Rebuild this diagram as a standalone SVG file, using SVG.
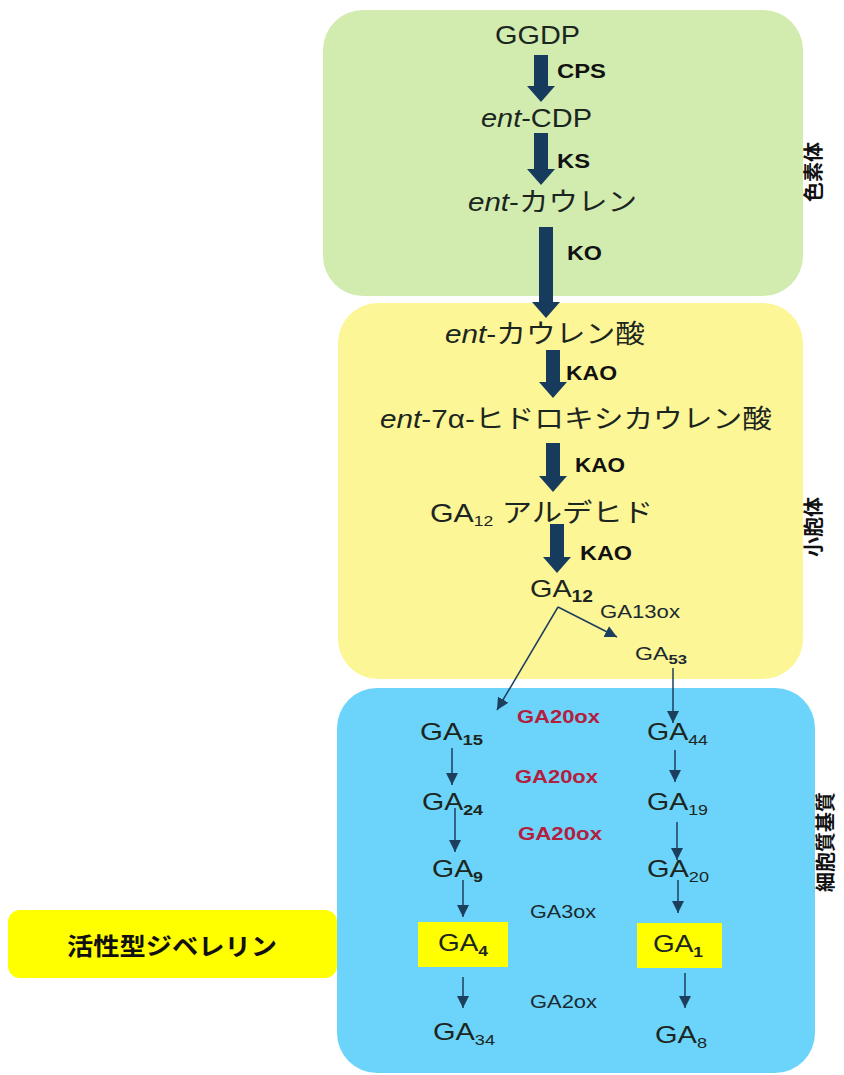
<svg xmlns="http://www.w3.org/2000/svg" width="844" height="1075" viewBox="0 0 844 1075">
<defs>
<style>
text{font-family:"Liberation Sans","Noto Sans CJK JP",sans-serif;fill:#1c2620}
.m{font-size:26px}
.g{font-size:24px}
.e{font-size:20px;font-weight:bold;fill:#111}
.r{font-size:18px;font-weight:bold;fill:#b3203f}
.s{font-size:18px;fill:#1b2a30}
.side{font-size:20px;font-weight:bold;fill:#111;text-anchor:middle}
.thick{stroke:#173b5c;stroke-width:14;fill:none}
.thin{stroke:#1d3f5e;stroke-width:1.5;fill:none}
</style>
<marker id="hb" markerUnits="userSpaceOnUse" markerWidth="18" markerHeight="30" refX="1" refY="14" orient="auto">
<path d="M0,0 L16,14 L0,28 Z" fill="#173b5c"/>
</marker>
<marker id="ht" markerUnits="userSpaceOnUse" markerWidth="14" markerHeight="12" refX="12" refY="6" orient="auto">
<path d="M0,0 L12,6 L0,12 Z" fill="#1d3f5e"/>
</marker>
</defs>
<g id="plastid">
<rect x="323" y="10" width="480" height="286" rx="40" fill="#d2ecb0"/>
<text class="side" transform="translate(821,172) rotate(-90)">色素体</text>
</g>
<g id="er">
<rect x="338" y="303" width="465" height="376" rx="40" fill="#fcf697"/>
<text class="side" transform="translate(821,527) rotate(-90)">小胞体</text>
</g>
<g id="cytosol">
<rect x="337" y="688" width="478" height="385" rx="40" fill="#6cd4fb"/>
<text class="side" transform="translate(833,842) rotate(-90)">細胞質基質</text>
</g>
<g id="active-label">
<rect x="8" y="910" width="329" height="68" rx="12" fill="#ffff00"/>
<text x="67" y="955" textLength="210" lengthAdjust="spacingAndGlyphs" style="font-size:24px;font-weight:bold;fill:#111">活性型ジベレリン</text>
</g>
<g id="n-ggdp"><text class="m" x="495" y="44" textLength="85" lengthAdjust="spacingAndGlyphs">GGDP</text></g>
<g id="n-cdp"><text class="m" x="481" y="127" textLength="111" lengthAdjust="spacingAndGlyphs"><tspan font-style="italic">ent</tspan>-CDP</text></g>
<g id="n-kaurene"><text class="m" x="468" y="211" textLength="169" lengthAdjust="spacingAndGlyphs"><tspan font-style="italic">ent</tspan>-カウレン</text></g>
<g id="n-kaurenoic"><text class="m" x="445" y="343" textLength="200" lengthAdjust="spacingAndGlyphs"><tspan font-style="italic">ent</tspan>-カウレン酸</text></g>
<g id="n-hydroxy"><text class="m" x="380" y="428" textLength="392" lengthAdjust="spacingAndGlyphs"><tspan font-style="italic">ent</tspan>-7α-ヒドロキシカウレン酸</text></g>
<g id="n-ga12ald"><text class="m" x="430" y="522" textLength="223" lengthAdjust="spacingAndGlyphs">GA<tspan font-size="15" dy="4">12</tspan><tspan dy="-4"> アルデヒド</tspan></text></g>
<g id="n-ga12"><text class="g" x="530" y="597" textLength="63" lengthAdjust="spacingAndGlyphs">GA<tspan font-size="16" font-weight="bold" dy="5">12</tspan></text></g>
<g id="n-ga53"><text class="s" x="635" y="660" textLength="52" lengthAdjust="spacingAndGlyphs">GA<tspan font-size="13" font-weight="bold" dy="4">53</tspan></text></g>
<g id="n-ga15"><text class="g" x="420" y="740" textLength="63" lengthAdjust="spacingAndGlyphs">GA<tspan font-size="15" font-weight="bold" dy="5">15</tspan></text></g>
<g id="n-ga44"><text class="g" x="647" y="740" textLength="61" lengthAdjust="spacingAndGlyphs">GA<tspan font-size="15" dy="5">44</tspan></text></g>
<g id="n-ga24"><text class="g" x="422" y="810" textLength="61" lengthAdjust="spacingAndGlyphs">GA<tspan font-size="15" font-weight="bold" dy="5">24</tspan></text></g>
<g id="n-ga19"><text class="g" x="647" y="810" textLength="61" lengthAdjust="spacingAndGlyphs">GA<tspan font-size="15" dy="5">19</tspan></text></g>
<g id="n-ga9"><text class="g" x="432" y="877" textLength="51" lengthAdjust="spacingAndGlyphs">GA<tspan font-size="15" font-weight="bold" dy="5">9</tspan></text></g>
<g id="n-ga20"><text class="g" x="647" y="877" textLength="62" lengthAdjust="spacingAndGlyphs">GA<tspan font-size="15" dy="5">20</tspan></text></g>
<g id="n-ga4"><rect x="418" y="922" width="90" height="45" fill="#ffff00"/><text class="g" x="438" y="951" textLength="50" lengthAdjust="spacingAndGlyphs">GA<tspan font-size="15" font-weight="bold" dy="5">4</tspan></text></g>
<g id="n-ga1"><rect x="637" y="923" width="85" height="45" fill="#ffff00"/><text class="g" x="653" y="952" textLength="50" lengthAdjust="spacingAndGlyphs">GA<tspan font-size="15" font-weight="bold" dy="5">1</tspan></text></g>
<g id="n-ga34"><text class="g" x="433" y="1040" textLength="62" lengthAdjust="spacingAndGlyphs">GA<tspan font-size="15" dy="5">34</tspan></text></g>
<g id="n-ga8"><text class="g" x="655" y="1043" textLength="52" lengthAdjust="spacingAndGlyphs">GA<tspan font-size="15" dy="5">8</tspan></text></g>
<g id="connectors">
<line class="thick" x1="541" y1="55" x2="541" y2="87" marker-end="url(#hb)"/>
<line class="thick" x1="541" y1="133" x2="541" y2="170" marker-end="url(#hb)"/>
<line class="thick" x1="546" y1="227" x2="546" y2="303" marker-end="url(#hb)"/>
<line class="thick" x1="553" y1="350" x2="553" y2="383" marker-end="url(#hb)"/>
<line class="thick" x1="553" y1="443" x2="553" y2="477" marker-end="url(#hb)"/>
<line class="thick" x1="557" y1="524" x2="557" y2="558" marker-end="url(#hb)"/>
<line class="thin" x1="558" y1="607" x2="617" y2="637" marker-end="url(#ht)"/>
<line class="thin" x1="558" y1="607" x2="497" y2="710" marker-end="url(#ht)"/>
<line class="thin" x1="673" y1="668" x2="673" y2="723" marker-end="url(#ht)"/>
<line class="thin" x1="452" y1="748" x2="452" y2="785" marker-end="url(#ht)"/>
<line class="thin" x1="455" y1="808" x2="455" y2="852" marker-end="url(#ht)"/>
<line class="thin" x1="463" y1="880" x2="463" y2="917" marker-end="url(#ht)"/>
<line class="thin" x1="463" y1="977" x2="463" y2="1008" marker-end="url(#ht)"/>
<line class="thin" x1="675" y1="750" x2="675" y2="782" marker-end="url(#ht)"/>
<line class="thin" x1="677" y1="822" x2="677" y2="860" marker-end="url(#ht)"/>
<line class="thin" x1="678" y1="880" x2="678" y2="913" marker-end="url(#ht)"/>
<line class="thin" x1="685" y1="973" x2="685" y2="1008" marker-end="url(#ht)"/>
</g>
<g id="enzyme-labels">
<text class="e" x="557" y="78" textLength="49" lengthAdjust="spacingAndGlyphs">CPS</text>
<text class="e" x="557" y="168" textLength="33" lengthAdjust="spacingAndGlyphs">KS</text>
<text class="e" x="567" y="260" textLength="35" lengthAdjust="spacingAndGlyphs">KO</text>
<text class="e" x="566" y="380" textLength="51" lengthAdjust="spacingAndGlyphs">KAO</text>
<text class="e" x="575" y="472" textLength="50" lengthAdjust="spacingAndGlyphs">KAO</text>
<text class="e" x="580" y="560" textLength="52" lengthAdjust="spacingAndGlyphs">KAO</text>
<text class="s" x="600" y="618" textLength="80" lengthAdjust="spacingAndGlyphs">GA13ox</text>
<text class="r" x="517" y="723" textLength="83" lengthAdjust="spacingAndGlyphs">GA20ox</text>
<text class="r" x="515" y="783" textLength="83" lengthAdjust="spacingAndGlyphs">GA20ox</text>
<text class="r" x="518" y="840" textLength="84" lengthAdjust="spacingAndGlyphs">GA20ox</text>
<text class="s" x="530" y="918" textLength="66" lengthAdjust="spacingAndGlyphs">GA3ox</text>
<text class="s" x="530" y="1008" textLength="67" lengthAdjust="spacingAndGlyphs">GA2ox</text>
</g>
</svg>
